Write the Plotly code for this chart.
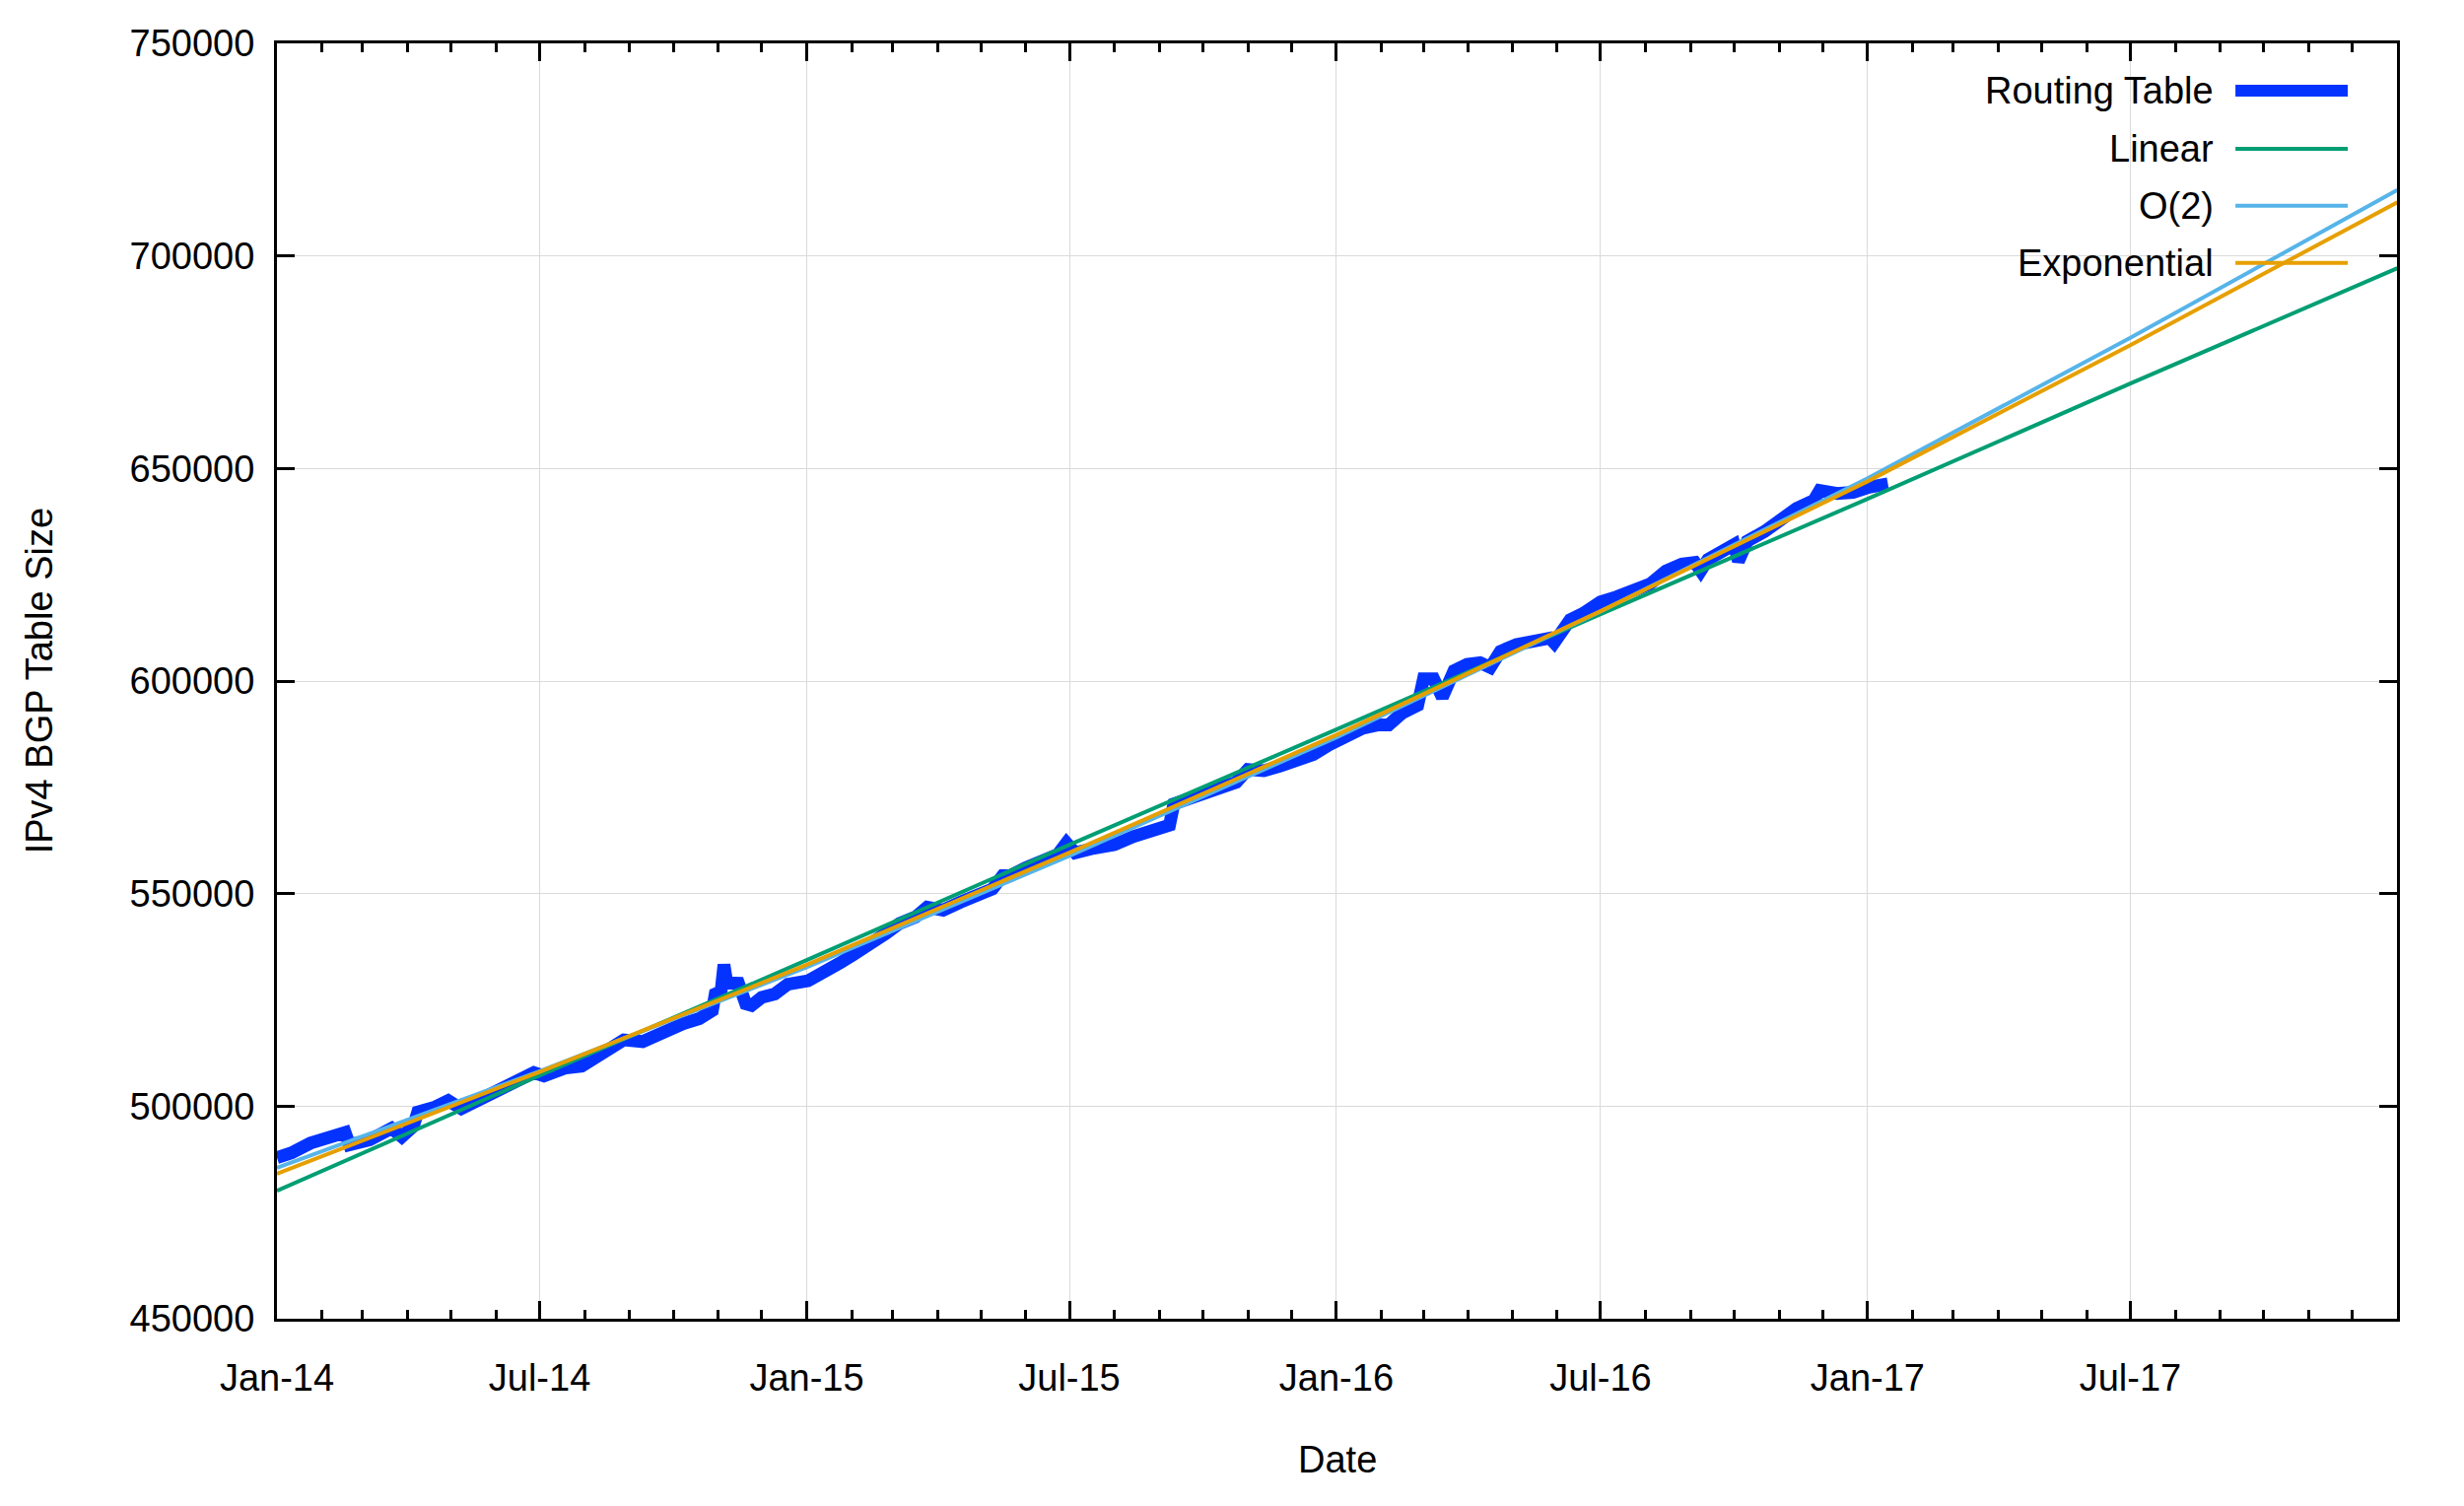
import plotly.graph_objects as go

# ---------------- data ----------------
rt_dates = [
    "2014-01-01", "2014-01-11", "2014-01-24", "2014-02-07", "2014-02-15", "2014-02-17",
    "2014-02-20", "2014-03-06", "2014-03-21", "2014-03-28", "2014-04-05", "2014-04-08",
    "2014-04-20", "2014-04-29", "2014-05-08", "2014-05-17", "2014-06-04", "2014-06-18",
    "2014-06-27", "2014-07-04", "2014-07-19", "2014-07-30", "2014-08-09", "2014-08-19",
    "2014-08-28", "2014-09-10", "2014-09-24", "2014-10-08", "2014-10-19", "2014-10-28",
    "2014-10-30", "2014-11-03", "2014-11-05", "2014-11-07", "2014-11-15", "2014-11-20",
    "2014-11-24", "2014-12-01", "2014-12-10", "2014-12-19", "2015-01-02", "2015-01-11",
    "2015-01-24", "2015-02-02", "2015-02-16", "2015-02-25", "2015-03-06", "2015-03-17",
    "2015-03-25", "2015-04-05", "2015-04-17", "2015-04-28", "2015-05-09", "2015-05-16",
    "2015-05-21", "2015-06-01", "2015-06-12", "2015-06-23", "2015-06-29", "2015-07-05",
    "2015-07-18", "2015-08-01", "2015-08-14", "2015-08-28", "2015-09-08", "2015-09-11",
    "2015-09-22", "2015-10-03", "2015-10-15", "2015-10-24", "2015-11-01", "2015-11-12",
    "2015-11-23", "2015-12-05", "2015-12-16", "2015-12-27", "2016-01-07", "2016-01-19",
    "2016-01-30", "2016-02-06", "2016-02-15", "2016-02-26", "2016-03-01", "2016-03-08",
    "2016-03-14", "2016-03-22", "2016-03-31", "2016-04-09", "2016-04-16", "2016-04-23",
    "2016-05-04", "2016-05-16", "2016-05-27", "2016-05-30", "2016-06-10", "2016-06-19",
    "2016-07-01", "2016-07-12", "2016-07-23", "2016-08-04", "2016-08-15", "2016-08-26",
    "2016-09-04", "2016-09-08", "2016-09-13", "2016-09-25", "2016-10-01", "2016-10-04",
    "2016-10-10", "2016-10-22", "2016-11-02", "2016-11-13", "2016-11-25", "2016-11-29",
    "2016-12-11", "2016-12-22", "2017-01-02", "2017-01-15",
]
rt_values = [
    487900, 489000, 491300, 492800, 494100, 493800,
    490900, 492100, 494800, 492800, 495300, 498600,
    499800, 501300, 499400, 500900, 504400, 506000,
    507900, 507100, 509000, 509400, 511300, 514000,
    515600, 515200, 517500, 519400, 520600, 522500,
    526400, 527000, 533300, 529000, 528900, 524100,
    523700, 525600, 526400, 528700, 529500, 531000,
    533700, 535600, 538400, 540700, 543000, 544500,
    546800, 546100, 548000, 549500, 551100, 554200,
    554200, 556100, 557600, 559200, 561900, 559600,
    560700, 561500, 563400, 565000, 566100, 571100,
    572300, 573800, 575000, 576200, 579200, 578900,
    580000, 581200, 582700, 585000, 587000, 588900,
    589700, 589700, 592400, 594300, 600500, 600500,
    596200, 602400, 603900, 604300, 603200, 607000,
    608600, 609300, 610100, 609000, 614400, 615900,
    618600, 619800, 621300, 622800, 625900, 627500,
    627900, 625900, 628600, 631300, 632100, 628200,
    632900, 635200, 638300, 640600, 642500, 644800,
    644100, 644400, 645600, 646400,
]

fit_dates = ["2014-01-01", "2014-07-01", "2015-01-01", "2015-07-01", "2016-01-01",
             "2016-07-01", "2017-01-01", "2017-07-01", "2018-01-01"]
linear_values = [480100, 507225, 534350, 561475, 588600, 615725, 642850, 669975, 697100]
quad_values = [485500, 508240, 532700, 558875, 586770, 616375, 647700, 680740, 715500]
exp_values = [484100, 508070, 533240, 559650, 587350, 616440, 646970, 679010, 712620]

y_ticks = [450000, 500000, 550000, 600000, 650000, 700000, 750000]

legend_names = ["Routing Table", "Linear", "O(2)", "Exponential"]
colors = ["#0433ff", "#009e73", "#56b4e9", "#e69f00"]

FONT = "Liberation Sans, Arial, Helvetica, sans-serif"

# ---------------- figure ----------------
fig = go.Figure()
fig.add_trace(go.Scatter(x=rt_dates, y=rt_values, mode="lines",
                         line=dict(color=colors[0], width=13),
                         name=legend_names[0], showlegend=False))
fig.add_trace(go.Scatter(x=fit_dates, y=linear_values, mode="lines",
                         line=dict(color=colors[1], width=4),
                         name=legend_names[1], showlegend=False))
fig.add_trace(go.Scatter(x=fit_dates, y=quad_values, mode="lines",
                         line=dict(color=colors[2], width=4),
                         name=legend_names[2], showlegend=False))
fig.add_trace(go.Scatter(x=fit_dates, y=exp_values, mode="lines",
                         line=dict(color=colors[3], width=4),
                         name=legend_names[3], showlegend=False))

# white legend box that hides gridlines but stays under the traces
fig.add_shape(type="rect", xref="paper", yref="paper", x0=0.7733, x1=1.0, y0=0.8063, y1=1.0,
              fillcolor="white", line=dict(width=0), layer="between")

# manual legend (text right, sample on the right side)
row_y = [0.9630, 0.9174, 0.8727, 0.8279]
sample_w = [12, 4, 4, 4]
for name, col, yy, w in zip(legend_names, colors, row_y, sample_w):
    fig.add_annotation(x=0.9145, y=yy, xref="paper", yref="paper", text=name,
                       showarrow=False, xanchor="right", yanchor="middle",
                       font=dict(family=FONT, size=38, color="black"))
    fig.add_shape(type="line", xref="paper", yref="paper", x0=0.9238, x1=0.9768,
                  y0=yy, y1=yy, line=dict(color=col, width=w), layer="above")

# axis titles
fig.add_annotation(x=-0.1119, y=0.5, xref="paper", yref="paper", text="IPv4 BGP Table Size",
                   showarrow=False, textangle=-90, xanchor="center", yanchor="middle",
                   font=dict(family=FONT, size=38, color="black"))
fig.add_annotation(x=0.5, y=-0.1103, xref="paper", yref="paper", text="Date",
                   showarrow=False, xanchor="center", yanchor="middle",
                   font=dict(family=FONT, size=38, color="black"))

# page body has an 8px default margin -> compensate
fig.update_layout(
    width=2492, height=1520,
    margin=dict(l=273, r=68, t=36, b=190),
    paper_bgcolor="white", plot_bgcolor="white",
    font=dict(family=FONT, size=38, color="black"),
    showlegend=False,
    hovermode=False,
)
fig.update_xaxes(
    type="date", range=["2014-01-01", "2017-12-31 18:00"],
    tick0="2014-01-01", dtick="M6", tickformat="%b-%y",
    ticks="inside", ticklen=18, tickwidth=3, tickcolor="black",
    showline=True, linewidth=3, linecolor="black", mirror="allticks",
    showgrid=True, gridcolor="#dadada", gridwidth=1.2,
    zeroline=False, ticklabelstandoff=24,
    tickfont=dict(family=FONT, size=38, color="black"),
    minor=dict(dtick="M1", tick0="2014-01-01", ticks="inside", ticklen=9,
               tickwidth=3, tickcolor="black", showgrid=False),
)
fig.update_yaxes(
    range=[450000, 750000], tickvals=y_ticks, tickformat="d",
    ticks="inside", ticklen=18, tickwidth=3, tickcolor="black",
    showline=True, linewidth=3, linecolor="black", mirror="allticks",
    showgrid=True, gridcolor="#dadada", gridwidth=1.2,
    zeroline=False, ticklabelstandoff=12,
    tickfont=dict(family=FONT, size=38, color="black"),
)

fig.write_html("out.html")
